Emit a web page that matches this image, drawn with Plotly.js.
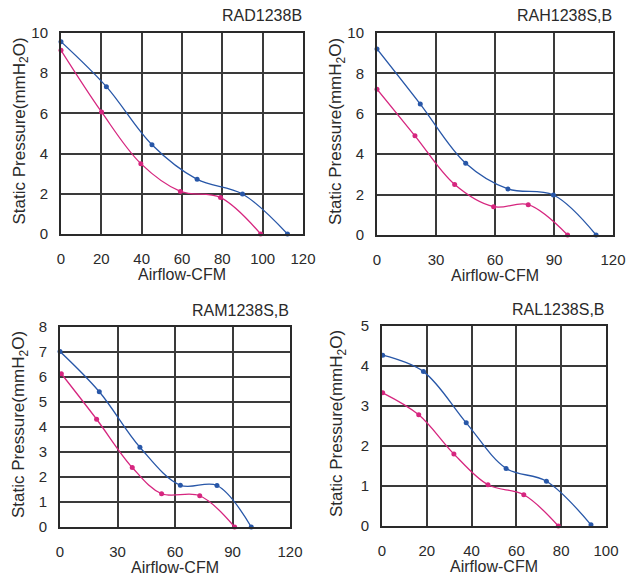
<!DOCTYPE html>
<html>
<head>
<meta charset="utf-8">
<script src="https://cdn.plot.ly/plotly-3.0.1.min.js"></script>
<style>html,body{margin:0;padding:0;background:#fff;}#chart{width:637px;height:579px;}</style>
</head>
<body>
<div id="chart"></div>
<script>
// Panel titles
const panelTitles = ["RAD1238B", "RAH1238S,B", "RAM1238S,B", "RAL1238S,B"];

// RAD1238B
const radBlueX = [0, 22.5, 45.1, 67.5, 90, 112.3];
const radBlueY = [9.57, 7.33, 4.44, 2.72, 1.99, 0];
const radPinkX = [0, 20.1, 39.6, 59.2, 79.1, 99];
const radPinkY = [9.14, 6.07, 3.5, 2.12, 1.81, 0];

// RAH1238S,B
const rahBlueX = [0, 22.0, 45.1, 66.6, 89.7, 111.4];
const rahBlueY = [9.21, 6.48, 3.55, 2.28, 1.98, 0];
const rahPinkX = [0, 19.3, 39.5, 59.3, 76.9, 96.9];
const rahPinkY = [7.22, 4.91, 2.50, 1.40, 1.50, 0];

// RAM1238S,B
const ramBlueX = [0, 20.5, 41.7, 62.8, 81.9, 99.8];
const ramBlueY = [7.02, 5.41, 3.19, 1.67, 1.66, 0];
const ramPinkX = [0.7, 19.1, 37.7, 53.0, 72.9, 91.1];
const ramPinkY = [6.13, 4.31, 2.38, 1.33, 1.25, 0];

// RAL1238S,B
const ralBlueX = [0.3, 18.5, 37.6, 55.4, 73.4, 93.3];
const ralBlueY = [4.27, 3.86, 2.58, 1.44, 1.12, 0.03];
const ralPinkX = [0.3, 16.4, 32.1, 47.3, 63.3, 78.7];
const ralPinkY = [3.33, 2.78, 1.80, 1.03, 0.78, 0];

// Axis ticks
const xTicksA = [0, 20, 40, 60, 80, 100, 120];
const xTicks30 = [0, 30, 60, 90, 120];
const xTicksD = [0, 20, 40, 60, 80, 100];
const yTicks10 = [0, 2, 4, 6, 8, 10];
const yTicks8 = [0, 1, 2, 3, 4, 5, 6, 7, 8];
const yTicks5 = [0, 1, 2, 3, 4, 5];

const BLUE = '#2857a8';
const PINK = '#d6267f';
const W = 637, H = 579;
const FONT = 'Liberation Sans, Arial, sans-serif';
const TXT = '#2a2a2a';

function px(x){ return x / W; }
function py(y){ return 1 - y / H; }

function tr(x, y, color, n){
  return {x: x, y: y, xaxis: 'x' + (n === 1 ? '' : n), yaxis: 'y' + (n === 1 ? '' : n),
    mode: 'lines+markers', type: 'scatter',
    line: {color: color, width: 1.3, shape: 'spline', smoothing: 1},
    marker: {color: color, size: 5}, showlegend: false, hoverinfo: 'skip', cliponaxis: false};
}

const data = [
  tr(radBlueX, radBlueY, BLUE, 1), tr(radPinkX, radPinkY, PINK, 1),
  tr(rahBlueX, rahBlueY, BLUE, 2), tr(rahPinkX, rahPinkY, PINK, 2),
  tr(ramBlueX, ramBlueY, BLUE, 3), tr(ramPinkX, ramPinkY, PINK, 3),
  tr(ralBlueX, ralBlueY, BLUE, 4), tr(ralPinkX, ralPinkY, PINK, 4)
];

function ax(domain, range, ticks, anchor, standoff){
  return {domain: domain, range: range, tickvals: ticks, ticktext: ticks.map(String),
    anchor: anchor, showgrid: true, gridcolor: '#3a3a3a', gridwidth: 2,
    showline: true, mirror: true, linecolor: '#2a2a2a', linewidth: 2,
    zeroline: false, ticks: '', ticklabelstandoff: standoff,
    tickfont: {family: FONT, size: 15, color: TXT}, fixedrange: true};
}

const panels = [
  {x0: 61, x1: 303, y0: 33, y1: 234, yt: 20},
  {x0: 377, x1: 613, y0: 33, y1: 235, yt: 337},
  {x0: 60, x1: 290, y0: 327, y1: 527, yt: 20},
  {x0: 382, x1: 606, y0: 326, y1: 526, yt: 338}
];

const layout = {
  width: W, height: H, margin: {l: 0, r: 0, t: 0, b: 0},
  paper_bgcolor: '#fff', plot_bgcolor: '#fff',
  font: {family: FONT, color: TXT},
  xaxis: ax([px(61), px(303)], [0, 120], xTicksA, 'y', 10),
  yaxis: ax([py(234), py(33)], [0, 10], yTicks10, 'x', 8),
  xaxis2: ax([px(377), px(613)], [0, 120], xTicks30, 'y2', 10),
  yaxis2: ax([py(235), py(33)], [0, 10], yTicks10, 'x2', 8),
  xaxis3: ax([px(60), px(290)], [0, 120], xTicks30, 'y3', 10),
  yaxis3: ax([py(527), py(327)], [0, 8], yTicks8, 'x3', 8),
  xaxis4: ax([px(382), px(606)], [0, 100], xTicksD, 'y4', 10),
  yaxis4: ax([py(526), py(326)], [0, 5], yTicks5, 'x4', 8),
  annotations: []
};

panels.forEach(function(p, i){
  layout.annotations.push({xref: 'paper', yref: 'paper', x: px(p.x1 + 1), y: py(p.y0 - 17),
    text: panelTitles[i], showarrow: false, xanchor: 'right', yanchor: 'middle',
    font: {family: FONT, size: 16, color: TXT}});
  layout.annotations.push({xref: 'paper', yref: 'paper', x: px((p.x0 + p.x1) / 2), y: py(p.y1 + 40),
    text: 'Airflow-CFM', showarrow: false, xanchor: 'center', yanchor: 'middle',
    font: {family: FONT, size: 16, color: TXT}});
  layout.annotations.push({xref: 'paper', yref: 'paper', x: px(p.yt), y: py((p.y0 + p.y1) / 2 - 2),
    text: 'Static Pressure(mmH<sub>2</sub>O)', showarrow: false, textangle: -90,
    xanchor: 'center', yanchor: 'middle',
    font: {family: FONT, size: 17, color: TXT}});
});

Plotly.newPlot('chart', data, layout, {staticPlot: true});
</script>
</body>
</html>
